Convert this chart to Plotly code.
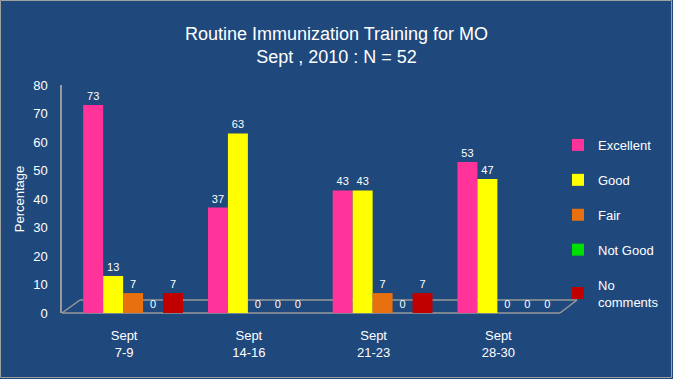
import plotly.graph_objects as go

categories = ["Sept<br>7-9", "Sept<br>14-16", "Sept<br>21-23", "Sept<br>28-30"]
excellent = [73, 37, 43, 53]
good = [13, 63, 43, 47]
fair = [7, 0, 7, 0]
not_good = [0, 0, 0, 0]
no_comments = [7, 0, 7, 0]

series = [
    ("Excellent", excellent, "#FF3399"),
    ("Good", good, "#FFFF00"),
    ("Fair", fair, "#E8700F"),
    ("Not Good", not_good, "#00E000"),
    ("No<br>comments", no_comments, "#C00000"),
]

W, H = 673, 379
ml, mr, mt, mb = 62, 112, 85, 66
pw = W - ml - mr
ph = H - mt - mb

fig = go.Figure()
for i, (name, vals, col) in enumerate(series):
    fig.add_trace(go.Bar(
        x=categories, y=vals, name=name,
        marker=dict(color=col, line=dict(width=0)),
        text=[str(v) for v in vals], textposition="outside",
        textfont=dict(color="white", size=11, family="Liberation Sans, Arial"),
        cliponaxis=False, legendgroup=str(i),
    ))

bg = "#1F497D"
shapes = []
# figure border
shapes.append(dict(type="rect", xref="paper", yref="paper",
                   x0=-(ml - 0.5) / pw, x1=1 + (mr - 1.5) / pw,
                   y0=-(mb - 1.5) / ph, y1=1 + (mt - 0.5) / ph,
                   line=dict(color="#A0A0A0", width=1), layer="below"))
# 3D floor
fx = lambda px: (px - ml) / pw
fy = lambda py: (H - mb - py) / ph
gray = dict(color="#9A9A9A", width=1.5)
shapes += [
    dict(type="line", xref="paper", yref="paper", x0=fx(62), y0=fy(313), x1=fx(560), y1=fy(313), line=gray, layer="below"),
    dict(type="line", xref="paper", yref="paper", x0=fx(80), y0=fy(300), x1=fx(577), y1=fy(300), line=gray, layer="below"),
    dict(type="line", xref="paper", yref="paper", x0=fx(62), y0=fy(313), x1=fx(80), y1=fy(300), line=gray, layer="below"),
    dict(type="line", xref="paper", yref="paper", x0=fx(560), y0=fy(313), x1=fx(577), y1=fy(300), line=gray, layer="below"),
]

shift = 0.07  # 3D depth offset of the bars relative to the category labels

fig.update_layout(
    width=W, height=H,
    margin=dict(l=ml, r=mr, t=mt, b=mb, autoexpand=False),
    paper_bgcolor=bg, plot_bgcolor=bg,
    font=dict(family="Liberation Sans, Arial", color="white"),
    title=dict(text="Routine Immunization Training for MO<br>Sept , 2010 : N = 52",
               x=0.5, xanchor="center", y=1 - 40 / H, yanchor="middle",
               font=dict(size=18, color="white")),
    barmode="group", bargap=0.2, bargroupgap=0.0,
    showlegend=True,
    legend=dict(x=fx(558), xanchor="left", y=fy(130), yanchor="top",
                font=dict(size=13, color="white"), tracegroupgap=15,
                bgcolor="rgba(0,0,0,0)", itemwidth=30),
    xaxis=dict(showgrid=False, showline=False, zeroline=False,
               range=[-0.5 - shift, 3.5 - shift],
               ticks="outside", ticklen=10, tickcolor="rgba(0,0,0,0)",
               ticklabelshift=-9,
               tickfont=dict(size=13, color="white"), fixedrange=True),
    yaxis=dict(range=[0, 80], dtick=10, showgrid=False, zeroline=False,
               showline=True, linecolor="#9A9A9A", linewidth=1.5,
               ticks="outside", ticklen=10, tickcolor="rgba(0,0,0,0)",
               tickfont=dict(size=13, color="white"),
               title=dict(text="Percentage", font=dict(size=13, color="white"), standoff=6)),
    shapes=shapes,
)

fig.write_html("out.html", config={"displayModeBar": False},
               post_script="document.body.style.margin='0';document.body.style.overflow='hidden';")
